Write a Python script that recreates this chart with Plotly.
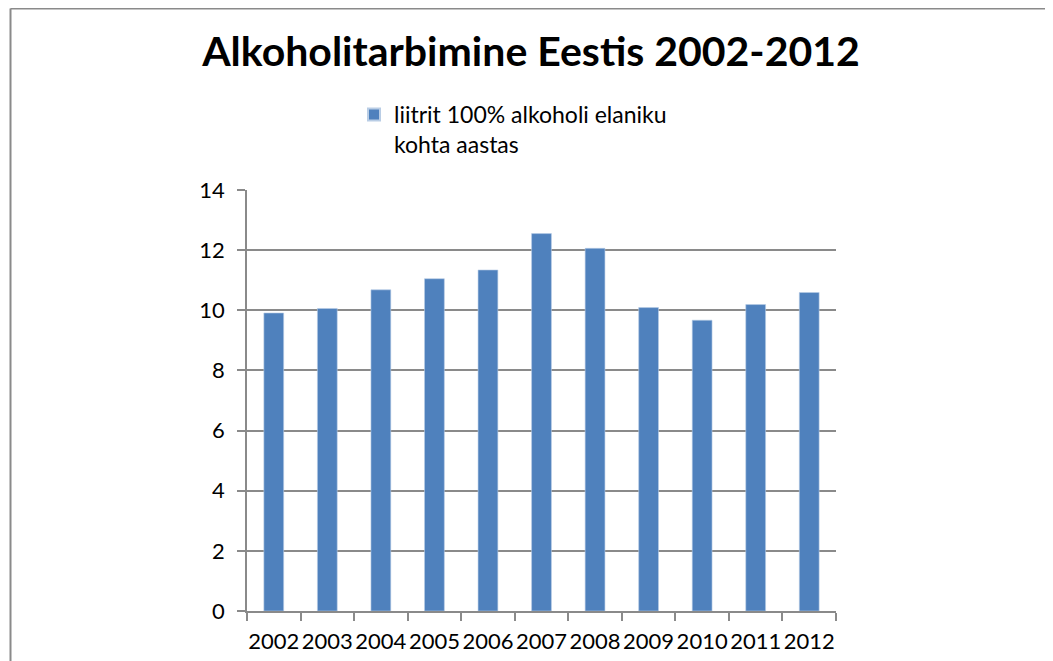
import plotly.graph_objects as go

years = ["2002", "2003", "2004", "2005", "2006", "2007", "2008", "2009", "2010", "2011", "2012"]
values = [9.91, 10.06, 10.68, 11.05, 11.34, 12.55, 12.06, 10.09, 9.67, 10.19, 10.59]
series_name = "liitrit 100% alkoholi elaniku<br>kohta aastas"
title_text = "Alkoholitarbimine Eestis 2002-2012"

W, H = 1053, 661
OX, OY = 8, 8  # page body offset
L, R, T, B = 247 - OX, 836 - OX, 190 - OY, 611 - OY

FONT = "Lato, 'Noto Sans', sans-serif"
GRID = "#8a8a8a"

fig = go.Figure()
fig.add_trace(go.Bar(
    x=years, y=values, name=series_name,
    marker=dict(color="#4F81BD", line=dict(color="#b9cde5", width=0.6)),
    showlegend=True,
))

def px_x(p):
    return (p - OX - L) / (R - L)

def px_y(p):
    return (B - (p - OY)) / (B - T)

fig.update_layout(
    width=W, height=H,
    margin=dict(l=L, r=W - R, t=T, b=H - B, pad=0, autoexpand=False),
    paper_bgcolor="white", plot_bgcolor="white",
    bargap=0.63,
    font=dict(family=FONT, size=22, color="#000000"),
    title=dict(text="<b>" + title_text + "</b>", x=px_x(531), xanchor="center", xref="paper",
               y=1 - (52 - OY) / H, yanchor="middle",
               font=dict(family=FONT, size=41, color="#000000")),
    showlegend=True,
    legend=dict(x=px_x(354), xanchor="left", y=px_y(93), yanchor="top",
                font=dict(family=FONT, size=23, color="#000000"),
                bgcolor="rgba(0,0,0,0)", itemsizing="constant", valign="top",
                itemwidth=30, tracegroupgap=0),
    xaxis=dict(type="category", showgrid=False, showline=True, linecolor=GRID, linewidth=1.5,
               ticks="outside", tickson="boundaries", ticklen=8, tickcolor=GRID, tickwidth=1.5,
               tickangle=0, automargin=False,
               tickfont=dict(family=FONT, size=22, color="#000000"), ticklabelstandoff=10,
               zeroline=False),
    yaxis=dict(range=[0, 14], dtick=2, showgrid=True, gridcolor=GRID, gridwidth=1.5,
               showline=True, linecolor=GRID, linewidth=1.5, automargin=False,
               ticks="outside", ticklen=8, tickcolor=GRID, tickwidth=1.5,
               tickfont=dict(family=FONT, size=22, color="#000000"), ticklabelstandoff=8,
               zeroline=False),
    shapes=[
        dict(type="line", xref="paper", yref="paper", x0=px_x(10.5), x1=px_x(1070),
             y0=px_y(8.5), y1=px_y(8.5), line=dict(color="#8a8a8a", width=2)),
        dict(type="line", xref="paper", yref="paper", x0=px_x(10.5), x1=px_x(10.5),
             y0=px_y(8.5), y1=px_y(680), line=dict(color="#8a8a8a", width=2)),
    ],
)

fig.write_html("out.html")
